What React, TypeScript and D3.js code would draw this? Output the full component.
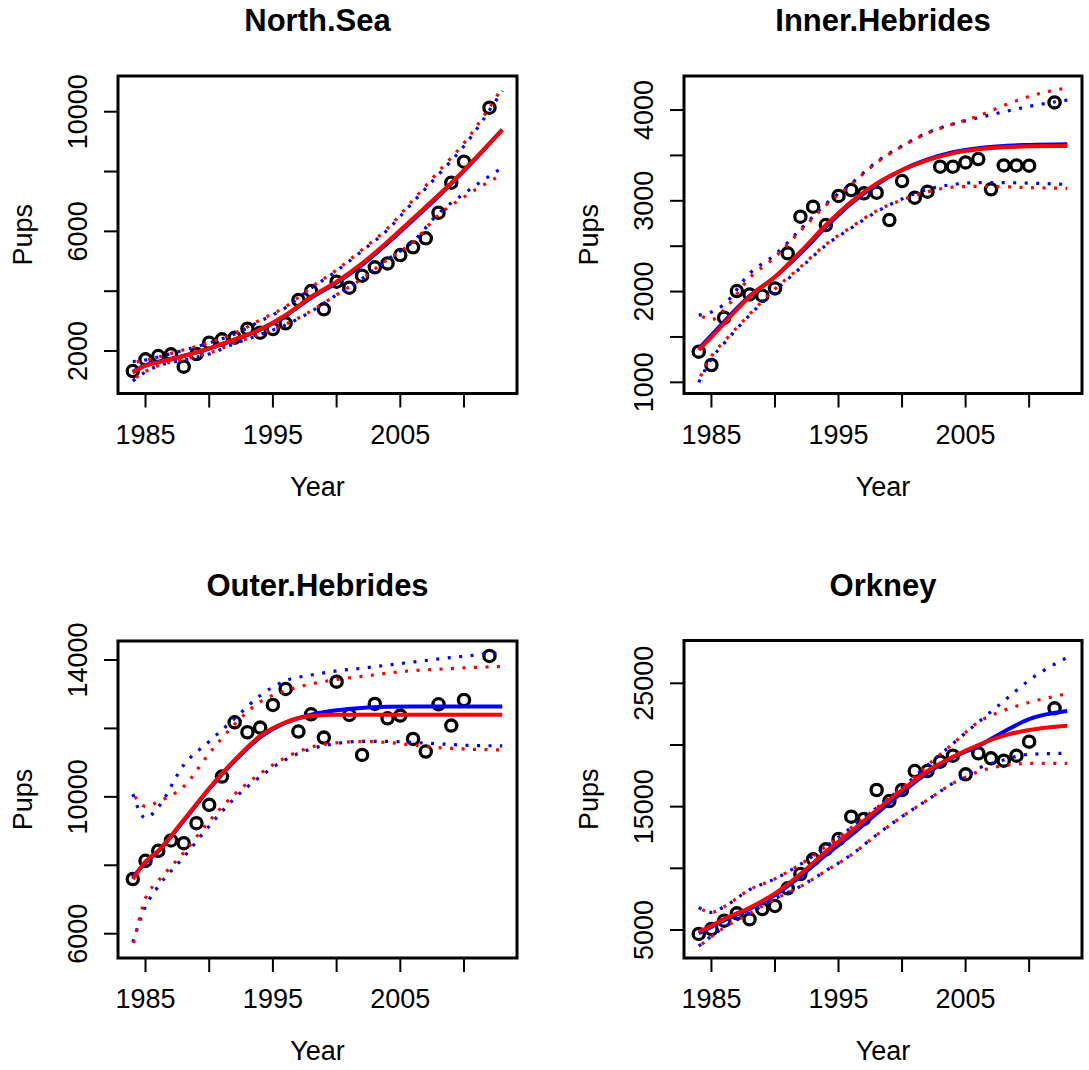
import React from 'react';
import * as d3 from 'd3';

// Observed survey years
const obsYears = [1984, 1985, 1986, 1987, 1988, 1989, 1990, 1991, 1992, 1993, 1994, 1995, 1996, 1997, 1998, 1999, 2000, 2001, 2002, 2003, 2004, 2005, 2006, 2007, 2008, 2009, 2010, 2012];
// Years at which fitted trajectories / intervals are read
const fitYears = [1984, 1985, 1986, 1988, 1990, 1992, 1994, 1996, 1998, 2000, 2002, 2004, 2006, 2008, 2010, 2013];

const xTicks = [1985, 1990, 1995, 2000, 2005, 2010];
const xTickLabels = [1985, 1995, 2005];

// North.Sea
const nsCounts = [1332, 1722, 1833, 1889, 1476, 1900, 2279, 2390, 2446, 2746, 2613, 2735, 2925, 3705, 4005, 3393, 4318, 4117, 4518, 4797, 4930, 5209, 5465, 5766, 6624, 7627, 8329, 10134];
const nsFitBlue = [1300, 1530, 1640, 1840, 2080, 2380, 2710, 3180, 3780, 4280, 4880, 5600, 6380, 7170, 8020, 9400];
const nsFitRed = [1276, 1510, 1621, 1833, 2089, 2390, 2724, 3203, 3816, 4318, 4930, 5654, 6435, 7214, 8050, 9390];
const nsUpBlue = [1650, 1700, 1800, 2030, 2270, 2570, 3000, 3450, 4100, 4680, 5350, 6050, 6980, 7900, 8850, 10700];
const nsUpRed = [1620, 1690, 1800, 2040, 2280, 2590, 3040, 3480, 4130, 4710, 5390, 6100, 7050, 8000, 8950, 10800];
const nsLoBlue = [1000, 1300, 1500, 1700, 1900, 2250, 2550, 2870, 3320, 3880, 4420, 5060, 5660, 6600, 7260, 8130];
const nsLoRed = [1031, 1320, 1510, 1720, 1930, 2270, 2570, 2890, 3340, 3880, 4420, 5060, 5640, 6550, 7150, 7900];
const nsYTicks = [2000, 4000, 6000, 8000, 10000];
const nsYLabels = [2000, 6000, 10000];

// Inner.Hebrides
const ihCounts = [1338, 1191, 1712, 2006, 1969, 1955, 2035, 2421, 2825, 2935, 2733, 3053, 3119, 3082, 3089, 2788, 3218, 3034, 3100, 3376, 3376, 3423, 3460, 3126, 3390, 3390, 3387, 4084];
const ihFitBlue = [1370, 1520, 1670, 1950, 2160, 2420, 2710, 2970, 3180, 3340, 3455, 3535, 3580, 3605, 3615, 3622];
const ihFitRed = [1356, 1500, 1650, 1944, 2164, 2439, 2733, 2990, 3192, 3339, 3449, 3523, 3567, 3589, 3600, 3603];
const ihUpBlue = [1740, 1775, 1860, 2200, 2405, 2685, 2965, 3190, 3430, 3605, 3750, 3846, 3915, 3980, 4040, 4110];
const ihUpRed = [1749, 1690, 1800, 2150, 2380, 2670, 2950, 3180, 3420, 3600, 3745, 3845, 3935, 4050, 4150, 4245];
const ihLoBlue = [1000, 1260, 1430, 1740, 2010, 2260, 2510, 2700, 2880, 3020, 3125, 3180, 3200, 3200, 3195, 3180];
const ihLoRed = [1026, 1290, 1450, 1750, 2030, 2270, 2520, 2710, 2890, 3010, 3100, 3150, 3160, 3155, 3145, 3137];
const ihYTicks = [1000, 1500, 2000, 2500, 3000, 3500, 4000];
const ihYLabels = [1000, 2000, 3000, 4000];

// Outer.Hebrides
const ohCounts = [7596, 8131, 8423, 8725, 8647, 9231, 9766, 10594, 12180, 11888, 12024, 12686, 13153, 11908, 12414, 11732, 13367, 12394, 11226, 12715, 12297, 12375, 11693, 11324, 12706, 12083, 12832, 14117];
const ohFitBlue = [7650, 8080, 8410, 9300, 10230, 11050, 11740, 12170, 12400, 12530, 12600, 12630, 12640, 12640, 12640, 12640];
const ohFitRed = [7596, 8110, 8420, 9330, 10253, 11080, 11781, 12180, 12365, 12400, 12400, 12400, 12400, 12400, 12400, 12400];
const ohUpBlue = [10080, 9380, 9700, 10930, 11620, 12290, 12960, 13397, 13560, 13680, 13760, 13850, 13940, 14030, 14110, 14220];
const ohUpRed = [10107, 9720, 9860, 10302, 11270, 12122, 12780, 13100, 13300, 13430, 13520, 13615, 13690, 13730, 13770, 13810];
const ohLoBlue = [5750, 6800, 7380, 8240, 9150, 9960, 10590, 11090, 11400, 11560, 11620, 11620, 11590, 11550, 11510, 11490];
const ohLoRed = [5611, 7040, 7540, 8370, 9290, 10078, 10680, 11150, 11450, 11580, 11616, 11590, 11510, 11440, 11400, 11372];
const ohYTicks = [6000, 8000, 10000, 12000, 14000];
const ohYLabels = [6000, 10000, 14000];

// Orkney
const orCounts = [4676, 5081, 5757, 6351, 5865, 6702, 6946, 8378, 9540, 10729, 11540, 12377, 14188, 13999, 16350, 15458, 16350, 17890, 17890, 18647, 19133, 17620, 19322, 18917, 18728, 19133, 20268, 22970];
const orFitBlue = [4730, 5250, 5780, 6700, 7840, 9350, 11080, 12700, 14450, 16150, 17730, 19000, 19900, 21080, 22100, 22754];
const orFitRed = [4865, 5351, 5892, 6811, 7973, 9540, 11350, 12972, 14729, 16350, 17890, 19052, 19998, 20754, 21214, 21565];
const orUpBlue = [6811, 6430, 6890, 8270, 9150, 10320, 11756, 13300, 14900, 16540, 18350, 20100, 21850, 23550, 25250, 27100];
const orUpRed = [6811, 6430, 6890, 8270, 9150, 10320, 11756, 13300, 14900, 16540, 18350, 20100, 21850, 22800, 23450, 24150];
const orLoBlue = [3700, 4500, 5220, 6380, 7540, 8540, 9800, 11100, 12720, 14200, 15550, 16900, 18106, 18782, 19241, 19322];
const orLoRed = [3649, 4460, 5189, 6351, 7513, 8513, 9783, 11080, 12702, 14188, 15539, 16890, 17836, 18322, 18511, 18511];
const orYTicks = [5000, 10000, 15000, 20000, 25000];
const orYLabels = [5000, 15000, 25000];

const panels = [
  { title: 'North.Sea', counts: nsCounts, fitBlue: nsFitBlue, fitRed: nsFitRed, upBlue: nsUpBlue, upRed: nsUpRed, loBlue: nsLoBlue, loRed: nsLoRed, yTicks: nsYTicks, yLabels: nsYLabels, yDomain: [580, 11194], left: 118, right: 517, top: 76, bottom: 393.5 },
  { title: 'Inner.Hebrides', counts: ihCounts, fitBlue: ihFitBlue, fitRed: ihFitRed, upBlue: ihUpBlue, upRed: ihUpRed, loBlue: ihLoBlue, loRed: ihLoRed, yTicks: ihYTicks, yLabels: ihYLabels, yDomain: [877, 4375], left: 684, right: 1082, top: 76, bottom: 393.5 },
  { title: 'Outer.Hebrides', counts: ohCounts, fitBlue: ohFitBlue, fitRed: ohFitRed, upBlue: ohUpBlue, upRed: ohUpRed, loBlue: ohLoBlue, loRed: ohLoRed, yTicks: ohYTicks, yLabels: ohYLabels, yDomain: [5290, 14555], left: 118, right: 517, top: 641, bottom: 958 },
  { title: 'Orkney', counts: orCounts, fitBlue: orFitBlue, fitRed: orFitRed, upBlue: orUpBlue, upRed: orUpRed, loBlue: orLoBlue, loRed: orLoRed, yTicks: orYTicks, yLabels: orYLabels, yDomain: [2730, 28470], left: 684, right: 1082, top: 640.5, bottom: 958 },
];

const FONT = '"Liberation Sans", Arial, Helvetica, sans-serif';
const AXIS_FS = 27;
const TITLE_FS = 31;
const TICK = 14;

function Panel({ p }: { p: any }) {
  const x = d3.scaleLinear().domain([1982.84, 2014.16]).range([p.left, p.right]);
  const y = d3.scaleLinear().domain(p.yDomain).range([p.bottom, p.top]);
  const line = d3
    .line<[number, number]>()
    .x((d) => x(d[0]))
    .y((d) => y(d[1]))
    .curve(d3.curveMonotoneX);
  const series = (vals: number[]) => line(fitYears.map((yr, i) => [yr, vals[i]] as [number, number])) || '';
  const cx = (p.left + p.right) / 2;
  const cy = (p.top + p.bottom) / 2;
  const dotted = { fill: 'none', strokeWidth: 3.2, strokeDasharray: '3 8.5' };
  return (
    <g>
      <text x={cx} y={p.top - 45} textAnchor="middle" fontFamily={FONT} fontWeight="bold" fontSize={TITLE_FS}>
        {p.title}
      </text>
      {/* points */}
      {p.counts.map((v: number, i: number) => (
        <circle key={i} cx={x(obsYears[i])} cy={y(v)} r={5.6} fill="none" stroke="#000" strokeWidth={3.3} />
      ))}
      {/* intervals */}
      <path d={series(p.upBlue)} stroke="#0000ff" {...dotted} />
      <path d={series(p.loBlue)} stroke="#0000ff" {...dotted} />
      <path d={series(p.upRed)} stroke="#ff0000" {...dotted} strokeDashoffset={-4} />
      <path d={series(p.loRed)} stroke="#ff0000" {...dotted} strokeDashoffset={-4} />
      {/* fits */}
      <path d={series(p.fitBlue)} stroke="#0000ff" strokeWidth={4} fill="none" />
      <path d={series(p.fitRed)} stroke="#ff0000" strokeWidth={4} fill="none" />
      {/* box */}
      <rect x={p.left} y={p.top} width={p.right - p.left} height={p.bottom - p.top} fill="none" stroke="#000" strokeWidth={3} />
      {/* x axis */}
      {xTicks.map((t) => (
        <line key={t} x1={x(t)} x2={x(t)} y1={p.bottom} y2={p.bottom + TICK} stroke="#000" strokeWidth={2} />
      ))}
      {xTickLabels.map((t) => (
        <text key={t} x={x(t)} y={p.bottom + 50} textAnchor="middle" fontFamily={FONT} fontSize={AXIS_FS}>
          {t}
        </text>
      ))}
      <text x={cx} y={p.bottom + 102} textAnchor="middle" fontFamily={FONT} fontSize={AXIS_FS}>
        Year
      </text>
      {/* y axis */}
      {p.yTicks.map((t: number) => (
        <line key={t} x1={p.left - TICK} x2={p.left} y1={y(t)} y2={y(t)} stroke="#000" strokeWidth={2} />
      ))}
      {p.yLabels.map((t: number) => (
        <text
          key={t}
          transform={`translate(${p.left - 31},${y(t)}) rotate(-90)`}
          textAnchor="middle"
          fontFamily={FONT}
          fontSize={AXIS_FS}
        >
          {t}
        </text>
      ))}
      <text transform={`translate(${p.left - 86},${cy}) rotate(-90)`} textAnchor="middle" fontFamily={FONT} fontSize={AXIS_FS}>
        Pups
      </text>
    </g>
  );
}

export default function App() {
  return (
    <svg
      width={1089}
      height={1070}
      viewBox="0 0 1089 1070"
      style={{ position: 'absolute', left: 0, top: 0, background: '#fff' }}
    >
      <rect x={0} y={0} width={1089} height={1070} fill="#fff" />
      {panels.map((p) => (
        <Panel key={p.title} p={p} />
      ))}
    </svg>
  );
}
